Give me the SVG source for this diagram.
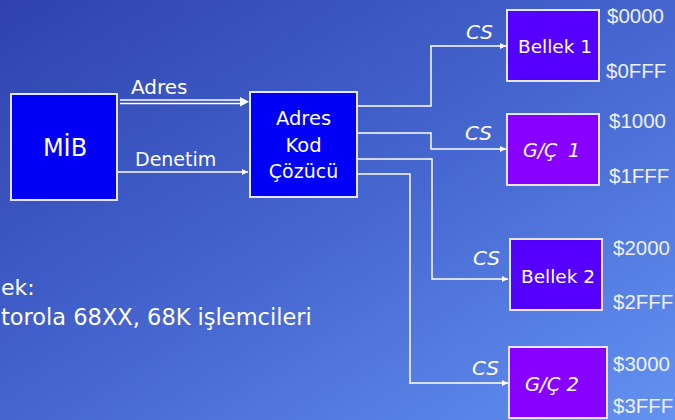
<svg xmlns="http://www.w3.org/2000/svg" width="675" height="420" viewBox="0 0 675 420">
<defs>
<linearGradient id="bg" x1="0" y1="0" x2="1" y2="1">
<stop offset="0" stop-color="#2f42ad"/>
<stop offset="0.5" stop-color="#4565cf"/>
<stop offset="1" stop-color="#6392f2"/>
</linearGradient>
<marker id="ah" viewBox="0 0 10 10" refX="10" refY="5" markerWidth="6" markerHeight="6" markerUnits="userSpaceOnUse" orient="auto">
<path d="M0,0 L10,5 L0,10 z" fill="#ffffff"/>
</marker>
</defs>
<style>
.box{stroke:#e4e6ff;stroke-width:2}
.blue{fill:#0000f6}
.vio{fill:#5500ff}
.pur{fill:#8800ff}
.t{font-family:"DejaVu Sans","Liberation Sans",sans-serif;fill:#ffffff}
.it{font-style:italic}
.adr{font-family:"Liberation Sans",Arial,sans-serif;fill:#eef0ff;font-size:20.5px}
.ln{fill:none;stroke:#ffffff;stroke-width:1.5}
</style>
<rect width="675" height="420" fill="url(#bg)"/>

<g id="connectors">
<path class="ln" d="M120,100 H244" stroke-width="1.2"/>
<path class="ln" d="M120,103.5 H244" stroke-width="1.2"/>
<path d="M240,97 L249,101.7 L240,106.4 z" fill="#fff"/>
<path class="ln" d="M118,172 H248" marker-end="url(#ah)"/>
<path class="ln" d="M358,106 H431 V46 H506" marker-end="url(#ah)"/>
<path class="ln" d="M358,133 H431 V149 H506" marker-end="url(#ah)"/>
<path class="ln" d="M358,159 H432 V279 H508" marker-end="url(#ah)"/>
<path class="ln" d="M358,174 H410 V383 H508" marker-end="url(#ah)"/>
<text class="t" x="131" y="94" style="font-size:20px">Adres</text>
<text class="t" x="135" y="166" style="font-size:19px">Denetim</text>
<text class="t it" x="466" y="39" style="font-size:20px">CS</text>
<text class="t it" x="465" y="140" style="font-size:20px">CS</text>
<text class="t it" x="473" y="265" style="font-size:20px">CS</text>
<text class="t it" x="472" y="375" style="font-size:20px">CS</text>
</g>

<g id="mib">
<rect class="box blue" x="11" y="94" width="106" height="106"/>
<text class="t" x="65" y="156" text-anchor="middle" style="font-size:24px">MİB</text>
</g>

<g id="decoder">
<rect class="box blue" x="250" y="92" width="107" height="105"/>
<text class="t" x="303.5" y="125" text-anchor="middle" style="font-size:19.5px">Adres</text>
<text class="t" x="303.5" y="152" text-anchor="middle" style="font-size:19.5px">Kod</text>
<text class="t" x="303.5" y="178" text-anchor="middle" style="font-size:19px">Çözücü</text>
</g>

<g id="bellek1">
<rect class="box vio" x="507" y="10" width="92" height="71"/>
<text class="t" x="555" y="53" text-anchor="middle" style="font-size:18.5px">Bellek 1</text>
<text class="adr" x="607" y="23">$0000</text>
<text class="adr" x="606" y="78">$0FFF</text>
</g>

<g id="gc1">
<rect class="box pur" x="507" y="114" width="92" height="71"/>
<text class="t it" x="523" y="157" style="font-size:19px">G/Ç</text>
<text class="t it" x="568" y="157" style="font-size:19px">1</text>
<text class="adr" x="609" y="128">$1000</text>
<text class="adr" x="609" y="183">$1FFF</text>
</g>

<g id="bellek2">
<rect class="box vio" x="510" y="239" width="92" height="71"/>
<text class="t" x="558" y="283" text-anchor="middle" style="font-size:18.5px">Bellek 2</text>
<text class="adr" x="613" y="255">$2000</text>
<text class="adr" x="613" y="309">$2FFF</text>
</g>

<g id="gc2">
<rect class="box pur" x="509" y="347" width="98" height="71"/>
<text class="t it" x="525" y="391" style="font-size:19.5px">G/Ç 2</text>
<text class="adr" x="613" y="371">$3000</text>
<text class="adr" x="613" y="413">$3FFF</text>
</g>

<g id="note">
<text class="t" x="1" y="295" style="font-size:22px">ek:</text>
<text class="t" x="1" y="325" style="font-size:22.5px">torola 68XX, 68K işlemcileri</text>
</g>
</svg>
